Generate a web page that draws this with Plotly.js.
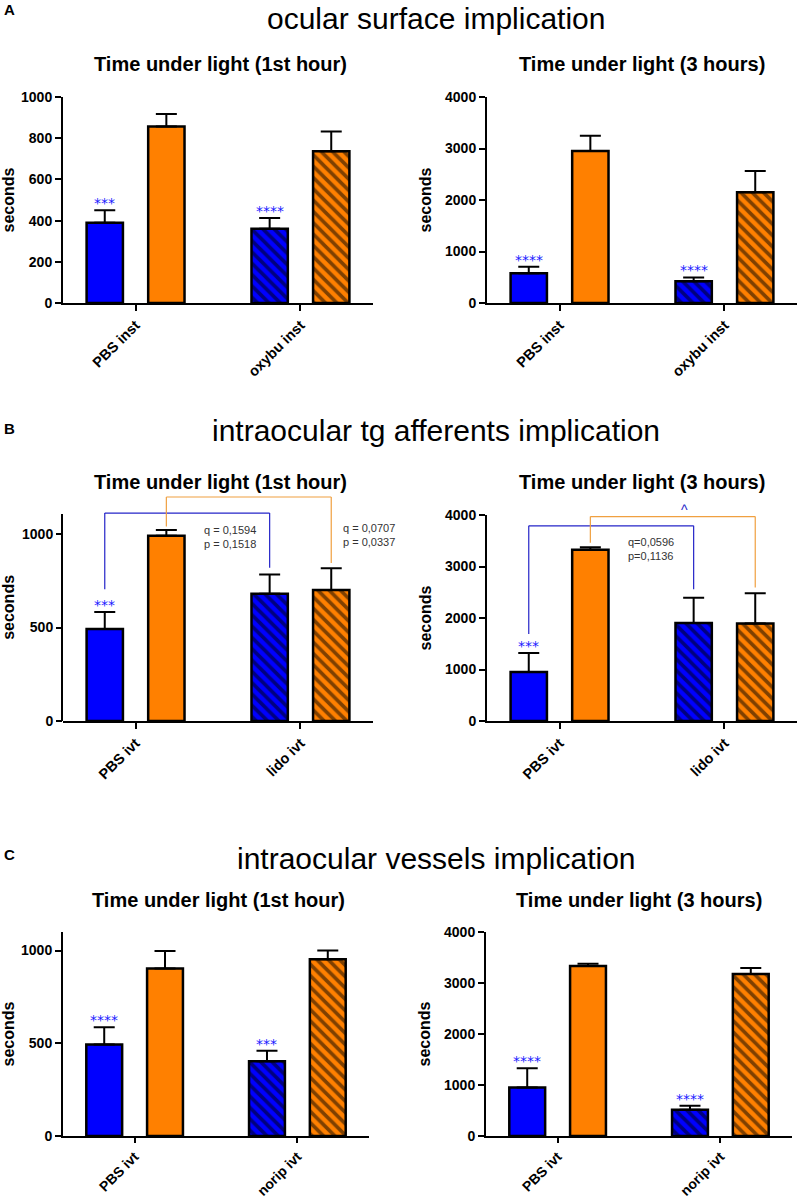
<!DOCTYPE html>
<html><head><meta charset="utf-8">
<script src="https://cdn.plot.ly/plotly-3.0.1.min.js"></script>
<style>html,body{margin:0;padding:0;background:#fff}</style>
</head><body><div id="chart" style="width:798px;height:1199px"></div>
<script>
// ---------- data ----------
const catsA = ["PBS inst", "oxybu inst"];
const catsB = ["PBS ivt", "lido ivt"];
const catsC = ["PBS ivt", "norip ivt"];

const sectionTitles = ["ocular surface implication", "intraocular tg afferents implication", "intraocular vessels implication"];
const sectionLetters = ["A", "B", "C"];
const titleHour = "Time under light (1st hour)";
const title3h = "Time under light (3 hours)";
const yTitle = "seconds";

// A: ocular surface, 1st hour
const a1Blue = [390, 360], a1BlueSem = [60, 53];
const a1Orange = [857, 737], a1OrangeSem = [61, 95];
const a1Stars = ["***", "****"];
// A: ocular surface, 3 hours
const a2Blue = [580, 420], a2BlueSem = [122, 76];
const a2Orange = [2950, 2150], a2OrangeSem = [300, 412];
const a2Stars = ["****", "****"];
// B: tg afferents, 1st hour
const b1Blue = [492, 681], b1BlueSem = [91, 103];
const b1Orange = [991, 700], b1OrangeSem = [30, 117];
const b1Stars = ["***", ""];
// B: tg afferents, 3 hours
const b2Blue = [950, 1905], b2BlueSem = [368, 487];
const b2Orange = [3325, 1892], b2OrangeSem = [50, 591];
const b2Stars = ["***", ""];
// C: vessels, 1st hour
const c1Blue = [493, 403], c1BlueSem = [93, 57];
const c1Orange = [903, 953], c1OrangeSem = [95, 47];
const c1Stars = ["****", "***"];
// C: vessels, 3 hours
const c2Blue = [953, 516], c2BlueSem = [373, 78];
const c2Orange = [3333, 3176], c2OrangeSem = [46, 118];
const c2Stars = ["****", "****"];

// comparison brackets (left foot, top, right foot) in seconds
const b1BlueBracket = [705, 1112, 820];
const b1OrangeBracket = [1040, 1198, 845];
const b2BlueBracket = [1690, 3790, 2560];
const b2OrangeBracket = [3460, 3970, 2590];
const b1Stats = ["q = 0,1594<br>p = 0,1518", "q = 0,0707<br>p = 0,0337"];
const b2Stats = ["q=0,0596<br>p=0,1136"];
const b2Caret = "^";

const ticks1000 = [0, 200, 400, 600, 800, 1000];
const ticks1000b = [0, 500, 1000];
const ticks4000 = [0, 1000, 2000, 3000, 4000];

// ---------- layout helpers ----------
const W = 798, H = 1199;
const fx = p => p / W;
const fy = p => 1 - p / H;
const BLUE = '#0000ff', ORANGE = '#ff8000';
const HATCH = ['', '\\'];
const BARGAP = 0.253, GROUPGAP = 0.41;
const OFF = (1 - BARGAP) / 4;
const FONT = 'Liberation Sans, Arial, sans-serif';
const XR = [-0.44, 1.44];

const panels = [
  {cats: catsA, blue: a1Blue, bs: a1BlueSem, orange: a1Orange, os: a1OrangeSem, stars: a1Stars, title: titleHour,
   box: [63, 373, 97, 303], range: [0, 1000], ticks: ticks1000, tt: [220, 64], xf: 14.5, tl: 6},
  {cats: catsA, blue: a2Blue, bs: a2BlueSem, orange: a2Orange, os: a2OrangeSem, stars: a2Stars, title: title3h,
   box: [487, 797, 97, 303], range: [0, 4000], ticks: ticks4000, tt: [642, 64], xf: 14.5, tl: 6},
  {cats: catsB, blue: b1Blue, bs: b1BlueSem, orange: b1Orange, os: b1OrangeSem, stars: b1Stars, title: titleHour,
   box: [63, 373, 721 - 1215 * 0.187, 721], range: [0, 1215], ticks: ticks1000b, tt: [220, 482], axTop: 1107, xf: 14.5, tl: 6},
  {cats: catsB, blue: b2Blue, bs: b2BlueSem, orange: b2Orange, os: b2OrangeSem, stars: b2Stars, title: title3h,
   box: [487, 797, 515, 721], range: [0, 4000], ticks: ticks4000, tt: [642, 482], xf: 14.5, tl: 6},
  {cats: catsC, blue: c1Blue, bs: c1BlueSem, orange: c1Orange, os: c1OrangeSem, stars: c1Stars, title: titleHour,
   box: [63, 369, 932, 1136], range: [0, 1100], ticks: ticks1000b, tt: [218, 900], xf: 14, tl: 5},
  {cats: catsC, blue: c2Blue, bs: c2BlueSem, orange: c2Orange, os: c2OrangeSem, stars: c2Stars, title: title3h,
   box: [486, 792, 932, 1136], range: [0, 4000], ticks: ticks4000, tt: [639, 900], xf: 14, tl: 5}
];

const traces = [], annotations = [], shapes = [];
const layout = {
  width: W, height: H, margin: {l: 0, r: 0, t: 0, b: 0},
  paper_bgcolor: '#fff', plot_bgcolor: 'rgba(0,0,0,0)',
  barmode: 'group', bargap: BARGAP, bargroupgap: GROUPGAP,
  showlegend: false, font: {family: FONT, color: '#000'},
  annotations: annotations, shapes: shapes
};

function errBar(sem) {
  return {type: 'data', symmetric: false, array: sem, color: '#000', thickness: 2, width: 10.5};
}

panels.forEach((p, i) => {
  const n = i === 0 ? '' : String(i + 1);
  const xa = 'x' + n, ya = 'y' + n;
  const common = {type: 'bar', x: p.cats, xaxis: xa, yaxis: ya, hoverinfo: 'skip', showlegend: false};
  traces.push(Object.assign({}, common, {
    y: p.blue, error_y: errBar(p.bs),
    marker: {color: BLUE, line: {color: '#000', width: 2.5},
             pattern: {shape: HATCH, fillmode: 'overlay', fgcolor: '#000', size: 8, solidity: 0.45}}
  }));
  traces.push(Object.assign({}, common, {
    y: p.orange, error_y: errBar(p.os),
    marker: {color: ORANGE, line: {color: '#000', width: 2.5},
             pattern: {shape: HATCH, fillmode: 'overlay', fgcolor: '#000', size: 8, solidity: 0.45}}
  }));
  const [x0, x1, yTop, yBot] = p.box;
  layout['xaxis' + n] = {
    domain: [fx(x0), fx(x1)], anchor: ya, type: 'category', range: XR, fixedrange: true,
    showline: true, linecolor: '#000', linewidth: 2, showgrid: false, zeroline: false,
    ticks: 'outside', ticklen: p.tl, tickwidth: 2, tickcolor: '#000', tickangle: -45,
    tickfont: {family: FONT, size: p.xf, weight: 'bold', color: '#000'}
  };
  layout['yaxis' + n] = {
    domain: [fy(yBot), fy(yTop)], anchor: xa, range: p.range, fixedrange: true,
    showline: !p.axTop, linecolor: '#000', linewidth: 2, showgrid: false, zeroline: false,
    ticks: 'outside', ticklen: 6, tickwidth: 2, tickcolor: '#000',
    tickmode: 'array', tickvals: p.ticks, ticktext: p.ticks.map(String),
    tickfont: {family: FONT, size: 14, weight: 'bold', color: '#000'},
    title: {text: yTitle, font: {family: FONT, size: 16, weight: 'bold', color: '#000'}, standoff: 9}
  };
  if (p.axTop) {
    shapes.push({type: 'line', xref: 'paper', yref: ya, x0: fx(x0 - 1), x1: fx(x0 - 1), y0: 0, y1: p.axTop,
                 line: {color: '#000', width: 2}});
  }
  // subplot title
  annotations.push({xref: 'paper', yref: 'paper', x: fx(p.tt[0]), y: fy(p.tt[1]), text: p.title,
    showarrow: false, xanchor: 'center', yanchor: 'middle',
    font: {family: FONT, size: 20, weight: 'bold', color: '#000'}});
  // significance stars over blue bars
  p.stars.forEach((s, k) => {
    if (!s) return;
    annotations.push({xref: xa, yref: ya, x: k - OFF, y: p.blue[k] + p.bs[k], text: s, showarrow: false,
      xanchor: 'center', yanchor: 'bottom', yshift: -3,
      font: {family: 'DejaVu Sans, sans-serif', size: 14, color: '#1a1aff'}});
  });
});

// section titles and letters
const secY = [0, 430, 858], letY = [10, 428, 854];
sectionTitles.forEach((t, i) => {
  annotations.push({xref: 'paper', yref: 'paper', x: fx(436), y: fy(secY[i]), text: t, showarrow: false,
    xanchor: 'center', yanchor: i === 0 ? 'top' : 'middle', font: {family: FONT, size: 30, color: '#000'}});
  annotations.push({xref: 'paper', yref: 'paper', x: fx(2), y: fy(letY[i]), text: sectionLetters[i], showarrow: false,
    xanchor: 'left', yanchor: 'middle', font: {family: FONT, size: 15, weight: 'bold', color: '#000'}});
});

// brackets
function bracket(xa, ya, xl, xr, b, color) {
  const ln = {color: color, width: 1.2};
  shapes.push({type: 'line', xref: xa, yref: ya, x0: xl, x1: xl, y0: b[0], y1: b[1], line: ln});
  shapes.push({type: 'line', xref: xa, yref: ya, x0: xl, x1: xr, y0: b[1], y1: b[1], line: ln});
  shapes.push({type: 'line', xref: xa, yref: ya, x0: xr, x1: xr, y0: b[1], y1: b[2], line: ln});
}
const BR_BLUE = '#2424c8', BR_ORANGE = '#f0a040';
bracket('x3', 'y3', 0 - OFF, 1 - OFF, b1BlueBracket, BR_BLUE);
bracket('x3', 'y3', 0 + OFF, 1 + OFF, b1OrangeBracket, BR_ORANGE);
bracket('x4', 'y4', 0 - OFF, 1 - OFF, b2BlueBracket, BR_BLUE);
bracket('x4', 'y4', 0 + OFF, 1 + OFF, b2OrangeBracket, BR_ORANGE);

const statFont = {family: FONT, size: 11, color: '#333'};
annotations.push({xref: 'x3', yref: 'y3', x: 0.40, y: 984, text: b1Stats[0], showarrow: false,
  xanchor: 'left', yanchor: 'middle', align: 'left', font: statFont});
annotations.push({xref: 'x3', yref: 'y3', x: 1.247, y: 997, text: b1Stats[1], showarrow: false,
  xanchor: 'left', yanchor: 'middle', align: 'left', font: statFont});
annotations.push({xref: 'x4', yref: 'y4', x: 0.40, y: 3346, text: b2Stats[0], showarrow: false,
  xanchor: 'left', yanchor: 'middle', align: 'left', font: statFont});
annotations.push({xref: 'x4', yref: 'paper', x: 0.76, y: fy(510), text: b2Caret, showarrow: false,
  xanchor: 'center', yanchor: 'middle', font: {family: FONT, size: 14, color: BR_BLUE}});

Plotly.newPlot('chart', traces, layout, {staticPlot: true, displayModeBar: false});
</script></body></html>
